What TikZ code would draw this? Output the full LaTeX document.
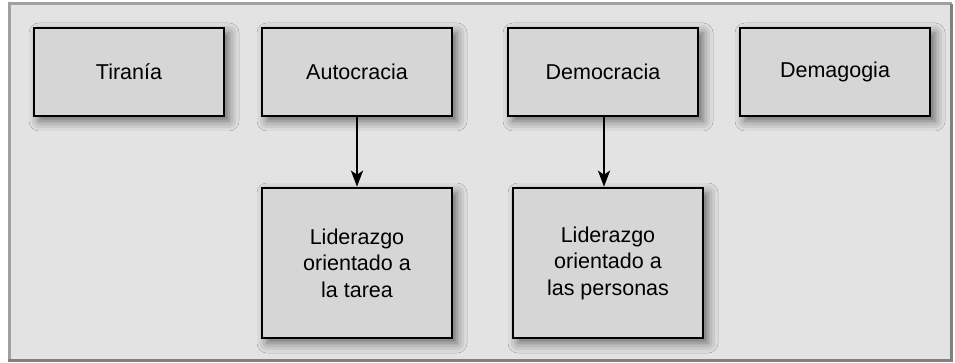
\documentclass[tikz,border=0pt]{standalone}
\usepackage{fontspec}
\setmainfont{Liberation Sans}
\usetikzlibrary{shadows.blur,arrows.meta}
\definecolor{framefill}{HTML}{E3E3E3}
\definecolor{boxfill}{HTML}{D6D6D6}
\definecolor{framelight}{HTML}{A0A0A0}
\definecolor{framedark}{HTML}{808080}
\begin{document}
\begin{tikzpicture}[x=1pt,y=-1pt,
  box/.style={draw=black,line width=2.6pt,fill=boxfill,minimum width=190pt,
    align=center,font=\fontsize{21.5}{26.5}\selectfont,inner sep=0pt,
    blur shadow={shadow xshift=5pt,shadow yshift=-5pt,shadow blur radius=10pt,shadow opacity=55}},
  topbox/.style={box,minimum height=88pt},
  lowbox/.style={box,minimum height=150pt},
  conn/.style={line width=2.6pt,-{Stealth[length=16pt,width=12pt,inset=4pt]}}]
\useasboundingbox (0,0) rectangle (955,363);
\fill[white] (0,0) rectangle (955,363);
\fill[framefill] (9.5,4) rectangle (951.5,360.5);
\draw[framelight,line width=3pt] (9.5,360.5) -- (9.5,4) -- (951.5,4);
\draw[framedark,line width=3pt] (951.5,4) -- (951.5,360.5) -- (8,360.5);
\node[topbox] (tir) at (129,72) {Tiranía};
\node[topbox] (aut) at (357,72) {Autocracia};
\node[topbox] (dem) at (603,72) {Democracia};
\node[topbox] (dgg) at (835,72) {Demagogia};
\node[lowbox] (tar) at (357,263) {Liderazgo\\orientado a\\la tarea};
\node[lowbox] (per) at (608,263) {Liderazgo\\orientado a\\las personas};
\draw[conn] (aut.south) -- (tar.north);
\draw[conn] ([xshift=1pt]dem.south) -- ([xshift=1pt]dem.south |- per.north);
\end{tikzpicture}
\end{document}
